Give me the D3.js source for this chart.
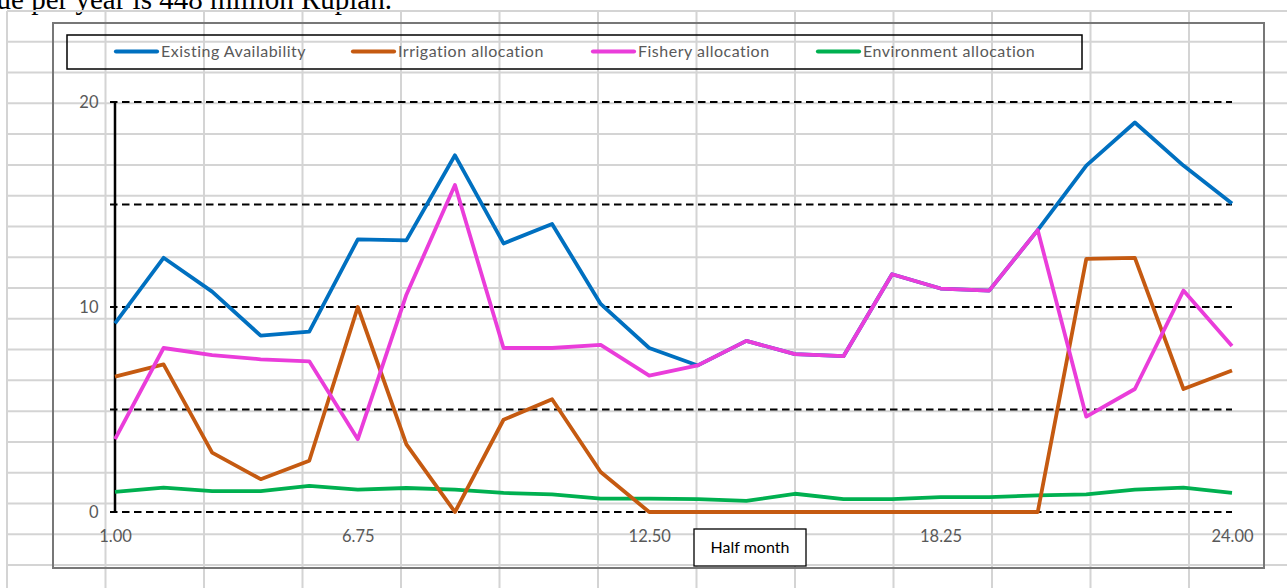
<!DOCTYPE html>
<html>
<head>
<meta charset="utf-8">
<script src="https://cdn.jsdelivr.net/npm/d3@7"></script>
<style>
  html, body { margin: 0; padding: 0; background: #fff; }
  svg { display: block; }
</style>
</head>
<body>
<svg id="chart" width="1287" height="588"></svg>
<script>
// Half-month periods of the year
const halfMonths = d3.range(1, 25);

// Water volumes per half month
const existingAvailability = [9.2, 12.4, 10.75, 8.6, 8.8, 13.3, 13.25, 17.4, 13.1, 14.05, 10.15, 8.0,
                              7.15, 8.35, 7.7, 7.6, 11.6, 10.9, 10.8, 13.75, 16.9, 19.0, 16.9, 15.05];
const irrigationAllocation = [6.6, 7.2, 2.9, 1.6, 2.5, 10.0, 3.3, 0, 4.5, 5.5, 1.95, 0,
                              0, 0, 0, 0, 0, 0, 0, 0, 12.35, 12.4, 6.0, 6.9];
const fisheryAllocation = [3.55, 8.0, 7.65, 7.45, 7.35, 3.55, 10.6, 15.95, 8.0, 8.0, 8.15, 6.65,
                           7.15, 8.35, 7.7, 7.6, 11.6, 10.9, 10.8, 13.75, 4.65, 6.0, 10.8, 8.1];
const environmentAllocation = [0.98, 1.19, 1.02, 1.02, 1.27, 1.09, 1.17, 1.09, 0.93, 0.86, 0.65, 0.65,
                               0.63, 0.54, 0.89, 0.63, 0.63, 0.73, 0.73, 0.81, 0.86, 1.09, 1.19, 0.93];

const seriesNames = ["Existing Availability", "Irrigation allocation", "Fishery allocation", "Environment allocation"];
const seriesColors = ["#0070C0", "#C55A11", "#EA3DDA", "#00B050"];

// Axis labels
const xTickAt = [1, 6, 12, 18, 24];
const xTickText = ["1.00", "6.75", "12.50", "18.25", "24.00"];
const yTicks = [0, 10, 20];
const yGrid = [0, 5, 10, 15, 20];
const xAxisTitle = "Half month";
const headerText = "value per year is 448 million Rupiah.";

const svg = d3.select("#chart");
const W = 1287, H = 588;

svg.append("rect").attr("width", W).attr("height", H).attr("fill", "#fff");

// Text line of the surrounding document
svg.append("text")
  .attr("x", 392).attr("y", 9)
  .attr("text-anchor", "end")
  .attr("font-family", "'Liberation Serif', 'Times New Roman', serif")
  .attr("font-size", 29)
  .attr("fill", "#000")
  .text(headerText);

// Worksheet cell grid behind the chart
const cellW = 98.5, cellH = 30.78, gx0 = 7, gy0 = 11;
const sheet = svg.append("g").attr("stroke", "#d4d4d4").attr("stroke-width", 2);
for (let i = 0; gx0 + i * cellW < W; i++) {
  sheet.append("line")
    .attr("x1", gx0 + i * cellW).attr("x2", gx0 + i * cellW)
    .attr("y1", gy0).attr("y2", H);
}
for (let j = 0; gy0 + j * cellH < H; j++) {
  sheet.append("line")
    .attr("x1", gx0).attr("x2", W)
    .attr("y1", gy0 + j * cellH).attr("y2", gy0 + j * cellH);
}

// Chart area frame
svg.append("rect")
  .attr("x", 53).attr("y", 23).attr("width", 1211).attr("height", 545)
  .attr("fill", "none").attr("stroke", "#777").attr("stroke-width", 2);

const x = d3.scaleLinear().domain([1, 24]).range([115, 1232]);
const y = d3.scaleLinear().domain([0, 20]).range([512, 102]);

// Dashed horizontal gridlines
svg.append("g")
  .selectAll("line")
  .data(yGrid)
  .join("line")
  .attr("x1", x(1) - 5).attr("x2", x(24))
  .attr("y1", d => y(d)).attr("y2", d => y(d))
  .attr("stroke", "#000").attr("stroke-width", 2.2)
  .attr("stroke-dasharray", "7.5,4.5");

const labelFont = "Lato, 'Open Sans', sans-serif";

// Y axis
const yAxis = svg.append("g")
  .attr("transform", `translate(${x(1) - 0.5},0)`)
  .call(d3.axisLeft(y).tickValues(yTicks).tickSize(0).tickSizeOuter(0).tickPadding(16));
yAxis.select(".domain").attr("stroke", "#000").attr("stroke-width", 2.5);
yAxis.selectAll("text")
  .attr("font-family", labelFont).attr("font-size", 16.5).attr("fill", "#595959");

// X axis labels
const xAxis = svg.append("g")
  .attr("transform", `translate(0,${y(0)})`)
  .call(d3.axisBottom(x).tickValues(xTickAt).tickFormat((d, i) => xTickText[i]).tickSize(0).tickPadding(18));
xAxis.select(".domain").remove();
xAxis.selectAll("text")
  .attr("font-family", labelFont).attr("font-size", 16.5).attr("fill", "#595959");

// Series lines
const allSeries = [existingAvailability, irrigationAllocation, fisheryAllocation, environmentAllocation];
const drawOrder = [3, 0, 1, 2];
const line = d3.line()
  .x((d, i) => x(halfMonths[i]))
  .y(d => y(d));

svg.append("g")
  .selectAll("path")
  .data(drawOrder)
  .join("path")
  .attr("d", k => line(allSeries[k]))
  .attr("fill", "none")
  .attr("stroke", k => seriesColors[k])
  .attr("stroke-width", 3.8)
  .attr("stroke-linejoin", "round");

// Legend
svg.append("rect")
  .attr("x", 67).attr("y", 35).attr("width", 1015).attr("height", 34)
  .attr("fill", "none").attr("stroke", "#000").attr("stroke-width", 1.5);

const legendX = [116, 353, 593, 818];
const legendItems = svg.append("g")
  .selectAll("g")
  .data(seriesNames)
  .join("g")
  .attr("transform", (d, i) => `translate(${legendX[i]},51.5)`);
legendItems.append("line")
  .attr("x1", 0).attr("x2", 41)
  .attr("stroke", (d, i) => seriesColors[i])
  .attr("stroke-width", 4.2)
  .attr("stroke-linecap", "round");
legendItems.append("text")
  .attr("x", 45).attr("dy", "0.35em")
  .attr("font-family", labelFont).attr("font-size", 16)
  .attr("letter-spacing", 0.5)
  .attr("fill", "#595959")
  .text(d => d);

// Axis title box
const titleBox = svg.append("g").attr("transform", "translate(694,529)");
titleBox.append("rect")
  .attr("width", 112).attr("height", 37)
  .attr("fill", "#fff").attr("stroke", "#000").attr("stroke-width", 1.3);
titleBox.append("text")
  .attr("x", 56).attr("y", 18.5).attr("dy", "0.35em")
  .attr("text-anchor", "middle")
  .attr("font-family", labelFont).attr("font-size", 16)
  .attr("fill", "#000")
  .text(xAxisTitle);
</script>
</body>
</html>
